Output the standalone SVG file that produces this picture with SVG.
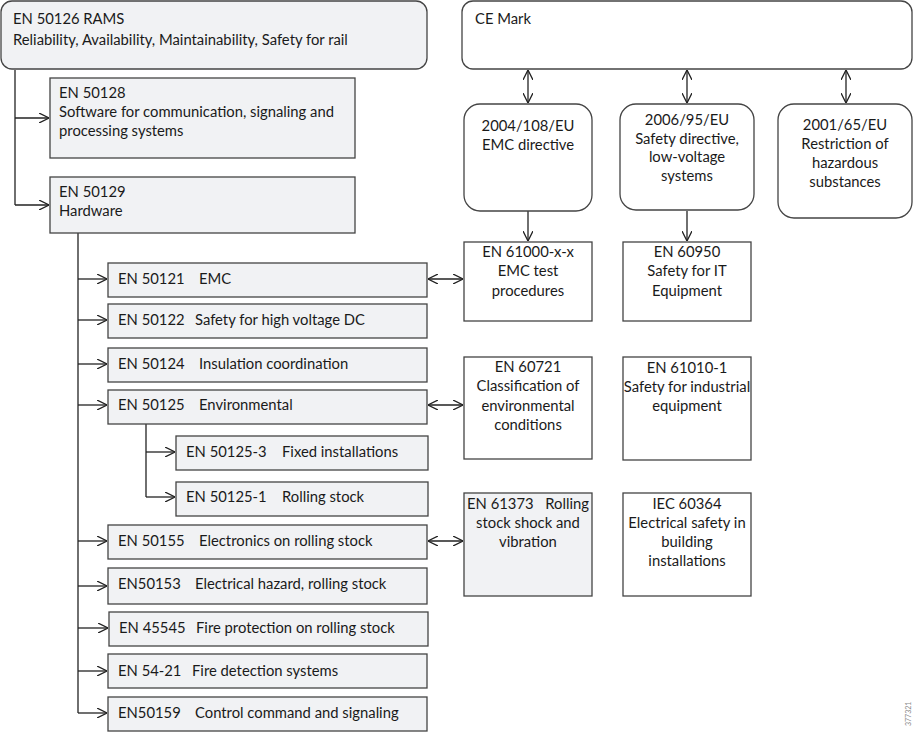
<svg xmlns="http://www.w3.org/2000/svg" width="917" height="735" viewBox="0 0 917 735">
<defs>
<marker id="ah" viewBox="0 0 10 10" refX="10" refY="5" markerWidth="10" markerHeight="10" markerUnits="userSpaceOnUse" orient="auto-start-reverse">
<path d="M0,0 L10,5 L0,10" fill="none" stroke="#222" stroke-width="1.3"/>
</marker>
<style>
text{font-family:Lato,"Liberation Sans",sans-serif;font-size:14.8px;fill:#1a1a1a}
.c{text-anchor:middle}
.g{fill:#f1f2f4;stroke:#444;stroke-width:1.3}
.w{fill:#fff;stroke:#444;stroke-width:1.3}
.ln{fill:none;stroke:#222;stroke-width:1.3}
.a{fill:none;stroke:#222;stroke-width:1.3;marker-end:url(#ah)}
.b{fill:none;stroke:#222;stroke-width:1.3;marker-end:url(#ah);marker-start:url(#ah)}
</style>
</defs>
<rect width="917" height="735" fill="#fff"/>
<g id="connectors">
<path class="ln" d="M15,70 V205"/>
<path class="a" d="M15,118 H49"/>
<path class="a" d="M15,205 H49"/>
<path class="ln" d="M78,233 V713"/>
<path class="a" d="M78,279 H107"/>
<path class="a" d="M78,320 H107"/>
<path class="a" d="M78,364 H107"/>
<path class="a" d="M78,405 H107"/>
<path class="a" d="M78,541 H107"/>
<path class="a" d="M78,586 H107"/>
<path class="a" d="M78,628 H108"/>
<path class="a" d="M78,671 H107"/>
<path class="a" d="M78,713 H107"/>
<path class="ln" d="M146,418 V497"/>
<path class="a" d="M146,452 H175"/>
<path class="a" d="M146,497 H175"/>
<path class="b" d="M528,70 V103"/>
<path class="b" d="M687,70 V103"/>
<path class="b" d="M846,70 V103"/>
<path class="a" d="M528,211 V241"/>
<path class="a" d="M687,211 V241"/>
<path class="b" d="M428,279 H463"/>
<path class="b" d="M428,405 H463"/>
<path class="b" d="M428,541 H463"/>
</g>
<g id="rams"><rect class="g" x="1" y="1" width="426" height="68" rx="11"/><text x="13" y="24">EN 50126 RAMS</text><text x="13" y="45">Reliability, Availability, Maintainability, Safety for rail</text></g>
<g id="ce"><rect class="w" x="462" y="1" width="450" height="68" rx="11"/><text x="475" y="24">CE Mark</text></g>
<g id="en50128"><rect class="g" x="50" y="78" width="305" height="80"/><text x="59" y="98">EN 50128</text><text x="59" y="117">Software for communication, signaling and</text><text x="59" y="136">processing systems</text></g>
<g id="en50129"><rect class="g" x="50" y="177" width="305" height="56"/><text x="59" y="197">EN 50129</text><text x="59" y="216">Hardware</text></g>
<g id="en50121"><rect class="g" x="108" y="263" width="319" height="34"/><text x="118" y="284">EN 50121</text><text x="199" y="284">EMC</text></g>
<g id="en50122"><rect class="g" x="108" y="304" width="319" height="34"/><text x="118" y="325">EN 50122</text><text x="195" y="325">Safety for high voltage DC</text></g>
<g id="en50124"><rect class="g" x="108" y="348" width="319" height="34"/><text x="118" y="369">EN 50124</text><text x="199" y="369">Insulation coordination</text></g>
<g id="en50125"><rect class="g" x="108" y="390" width="319" height="34"/><text x="118" y="410">EN 50125</text><text x="199" y="410">Environmental</text></g>
<g id="en50125-3"><rect class="g" x="176" y="436" width="252" height="34"/><text x="186" y="457">EN 50125-3</text><text x="282" y="457">Fixed installations</text></g>
<g id="en50125-1"><rect class="g" x="176" y="482" width="252" height="34"/><text x="186" y="502">EN 50125-1</text><text x="282" y="502">Rolling stock</text></g>
<g id="en50155"><rect class="g" x="108" y="525" width="319" height="34"/><text x="118" y="546">EN 50155</text><text x="199" y="546">Electronics on rolling stock</text></g>
<g id="en50153"><rect class="g" x="108" y="568" width="319" height="36"/><text x="118" y="589">EN50153</text><text x="195" y="589">Electrical hazard, rolling stock</text></g>
<g id="en45545"><rect class="g" x="109" y="612" width="319" height="34"/><text x="119" y="633">EN 45545</text><text x="196" y="633">Fire protection on rolling stock</text></g>
<g id="en54-21"><rect class="g" x="108" y="654" width="319" height="34"/><text x="118" y="676">EN 54-21</text><text x="192" y="676">Fire detection systems</text></g>
<g id="en50159"><rect class="g" x="108" y="697" width="319" height="34"/><text x="118" y="718">EN50159</text><text x="195" y="718">Control command and signaling</text></g>
<g id="d2004"><rect class="w" x="464" y="104" width="128" height="107" rx="16"/><text class="c" x="528" y="131">2004/108/EU</text><text class="c" x="528" y="150">EMC directive</text></g>
<g id="d2006"><rect class="w" x="620" y="104" width="134" height="106" rx="16"/><text class="c" x="687" y="125">2006/95/EU</text><text class="c" x="687" y="144">Safety directive,</text><text class="c" x="687" y="162">low-voltage</text><text class="c" x="687" y="181">systems</text></g>
<g id="d2001"><rect class="w" x="778" y="104" width="134" height="114" rx="16"/><text class="c" x="845" y="130">2001/65/EU</text><text class="c" x="845" y="149">Restriction of</text><text class="c" x="845" y="168">hazardous</text><text class="c" x="845" y="187">substances</text></g>
<g id="en61000"><rect class="w" x="464" y="242" width="128" height="79"/><text class="c" x="528" y="257">EN 61000-x-x</text><text class="c" x="528" y="276">EMC test</text><text class="c" x="528" y="296">procedures</text></g>
<g id="en60950"><rect class="w" x="623" y="242" width="128" height="79"/><text class="c" x="687" y="257">EN 60950</text><text class="c" x="687" y="276">Safety for IT</text><text class="c" x="687" y="296">Equipment</text></g>
<g id="en60721"><rect class="w" x="464" y="357" width="128" height="102"/><text class="c" x="528" y="372">EN 60721</text><text class="c" x="528" y="391">Classification of</text><text class="c" x="528" y="411">environmental</text><text class="c" x="528" y="430">conditions</text></g>
<g id="en61010"><rect class="w" x="623" y="357" width="128" height="103"/><text class="c" x="687" y="373">EN 61010-1</text><text class="c" x="687" y="392">Safety for industrial</text><text class="c" x="687" y="411">equipment</text></g>
<g id="en61373"><rect class="g" x="464" y="493" width="128" height="103"/><text x="467" y="509">EN 61373</text><text x="589" y="509" style="text-anchor:end">Rolling</text><text class="c" x="528" y="528">stock shock and</text><text class="c" x="528" y="547">vibration</text></g>
<g id="iec60364"><rect class="w" x="623" y="493" width="128" height="103"/><text class="c" x="687" y="509">IEC 60364</text><text class="c" x="687" y="528">Electrical safety in</text><text class="c" x="687" y="547">building</text><text class="c" x="687" y="566">installations</text></g>
<text transform="translate(911,726) rotate(-90)" style="font-size:7px;fill:#888">377321</text>
</svg>
